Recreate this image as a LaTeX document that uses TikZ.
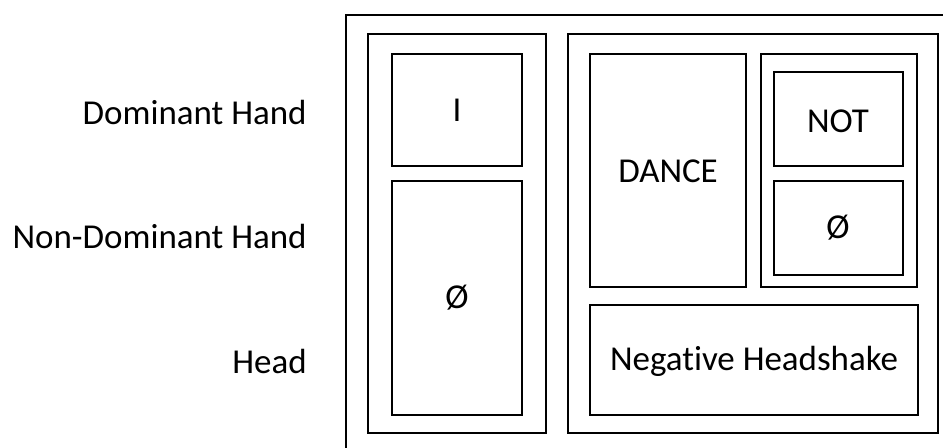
\documentclass[tikz,border=0pt]{standalone}
\usepackage{fontspec}
\setmainfont{Carlito}[Ligatures=NoCommon]
\usetikzlibrary{positioning}

\tikzset{
	cadre/.style={draw=black, line width=1.1pt},
	glose/.style={inner sep=0pt, font=\fontsize{19.9}{24}\selectfont},
	piste/.style={glose, anchor=east}
}

\begin{document}
\begin{tikzpicture}[x=0.02cm, y=-0.02cm]

		\useasboundingbox (0,0) rectangle (943,448);
		\clip (0,0) rectangle (943,448);

		% cadre exterieur
		\draw[cadre] (346,15) rectangle (980,480);

		% pistes
		\node[piste] (dom) at (307,112) {Dominant Hand};
		\node[piste] (nondom) at (307,236) {Non-Dominant Hand};
		\node[piste] (tete) at (307,361) {Head};

		% colonne de gauche
		\draw[cadre] (368,34) rectangle (546,433);

		\draw[cadre] (392,54) rectangle (522,166);
		\node[glose] (je) at (457,110) {I};

		\draw[cadre] (392,181) rectangle (522,415);
		\node[glose] (vide) at (457,298) {Ø};

		% colonne de droite
		\draw[cadre] (568,34) rectangle (938,433);

		\draw[cadre] (590,54) rectangle (746,287);
		\node[glose] (danse) at (668,171) {DANCE};

		\draw[cadre] (761,54) rectangle (917,287);

		\draw[cadre] (774,72) rectangle (903,166);
		\node[glose] (non) at (838,121) {NOT};

		\draw[cadre] (774,181) rectangle (903,275);
		\node[glose] (vide2) at (838,228) {Ø};

		\draw[cadre] (590,305) rectangle (918,415);
		\node[glose] (hoche) at (754,361) {Negative Headshake};

	\end{tikzpicture}
\end{document}
